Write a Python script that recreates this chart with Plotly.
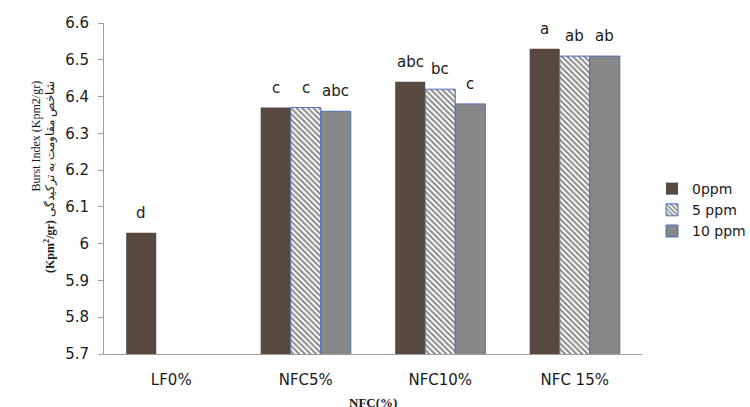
import plotly.graph_objects as go

# Burst index by furnish and additive dose
categories = ["LF0%", "NFC5%", "NFC10%", "NFC 15%"]
series_names = ["0ppm", "5 ppm", "10 ppm"]
values_0ppm = [6.03, 6.37, 6.44, 6.53]
values_5ppm = [None, 6.37, 6.42, 6.51]
values_10ppm = [None, 6.36, 6.38, 6.51]
labels_0ppm = ["d", "c", "abc", "a"]
labels_5ppm = ["", "c", "bc", "ab"]
labels_10ppm = ["", "abc", "c", "ab"]

y_ticks = [5.7, 5.8, 5.9, 6.0, 6.1, 6.2, 6.3, 6.4, 6.5, 6.6]
y_tick_text = ["5.7", "5.8", "5.9", "6", "6.1", "6.2", "6.3", "6.4", "6.5", "6.6"]

W, H = 750, 407
L, R, T, B = 104, 108, 23, 53
plot_w = W - L - R
plot_h = H - T - B

FONT = "DejaVu Sans"
BORDER = "#4f6fb8"
BAR_GAP = 0.33

x_idx = list(range(len(categories)))
all_values = [values_0ppm, values_5ppm, values_10ppm]
all_labels = [labels_0ppm, labels_5ppm, labels_10ppm]

fig = go.Figure()
fig.add_trace(go.Bar(
    name=series_names[0], x=x_idx, y=values_0ppm, legendgroup="g0",
    marker=dict(color="#574840", line=dict(width=0)),
))
fig.add_trace(go.Bar(
    name=series_names[1], x=x_idx, y=values_5ppm, legendgroup="g1",
    marker=dict(color="white", line=dict(color=BORDER, width=1),
                pattern=dict(shape="\\", fgcolor="#111111", bgcolor="white",
                             size=4, solidity=0.5)),
))
fig.add_trace(go.Bar(
    name=series_names[2], x=x_idx, y=values_10ppm, legendgroup="g2",
    marker=dict(color="#6e6e6e", line=dict(color=BORDER, width=1),
                pattern=dict(shape=".", fgcolor="#1e1e1e", bgcolor="#acacac",
                             size=2, solidity=0.6)),
))

# significance letters above each bar
n = len(series_names)
bar_w = (1 - BAR_GAP) / n
for j, (vals, labs) in enumerate(zip(all_values, all_labels)):
    for i, (v, t) in enumerate(zip(vals, labs)):
        if v is None or not t:
            continue
        fig.add_annotation(
            x=i + (j - (n - 1) / 2) * bar_w, y=v, xref="x", yref="y",
            text=t, showarrow=False, yanchor="bottom", xanchor="center",
            yshift=9, font=dict(family=FONT, size=15, color="#1a1a1a"),
        )

def px_x(p):
    return (p - L) / plot_w

def px_y(p):
    return (T + plot_h - p) / plot_h

# y-axis titles (English and Persian), rotated
fig.add_annotation(
    x=px_x(35), y=px_y(79), xref="paper", yref="paper",
    text="Burst Index (Kpm2/gr)", textangle=-90, showarrow=False,
    xanchor="center", yanchor="top",
    font=dict(family="Liberation Serif", size=12, color="#1a1a1a"),
)
fig.add_annotation(
    x=px_x(49), y=px_y(79), xref="paper", yref="paper",
    text="<b>(Kpm<sup>2</sup>/gr)</b> شاخص مقاومت به ترکیدگی",
    textangle=-90, showarrow=False, xanchor="center", yanchor="top",
    font=dict(family="Liberation Serif", size=12, color="#1a1a1a"),
)
# x-axis title
fig.add_annotation(
    x=px_x(373), y=px_y(402), xref="paper", yref="paper",
    text="<b>NFC(%)</b>", showarrow=False, xanchor="center", yanchor="middle",
    font=dict(family="Liberation Serif", size=13, color="#1a1a1a"),
)

fig.update_layout(
    width=W, height=H,
    margin=dict(l=L, r=R, t=T, b=B, pad=0, autoexpand=False),
    paper_bgcolor="white", plot_bgcolor="white",
    barmode="group", bargap=BAR_GAP, bargroupgap=0,
    font=dict(family=FONT, size=15, color="#1a1a1a"),
    showlegend=True,
    legend=dict(
        xref="container", yref="container",
        x=652 / W, y=1 - 210 / H, xanchor="left", yanchor="middle",
        font=dict(family=FONT, size=14, color="#1a1a1a"),
        bgcolor="rgba(0,0,0,0)", itemwidth=30, tracegroupgap=3,
        traceorder="normal",
    ),
)
fig.update_xaxes(
    range=[-0.5, len(categories) - 0.5],
    tickmode="array", tickvals=x_idx, ticktext=categories,
    showline=True, linecolor="#a39d95", linewidth=1,
    ticks="", showgrid=False, zeroline=False,
    ticklabelstandoff=12,
    tickfont=dict(family=FONT, size=15, color="#1a1a1a"),
)
fig.update_yaxes(
    range=[5.7, 6.6], tickmode="array", tickvals=y_ticks, ticktext=y_tick_text,
    showline=True, linecolor="#a39d95", linewidth=1,
    ticks="outside", ticklen=5, tickcolor="#a39d95",
    showgrid=False, zeroline=False, ticklabelstandoff=6,
    tickfont=dict(family=FONT, size=15, color="#1a1a1a"),
)

fig.write_html("out.html")
